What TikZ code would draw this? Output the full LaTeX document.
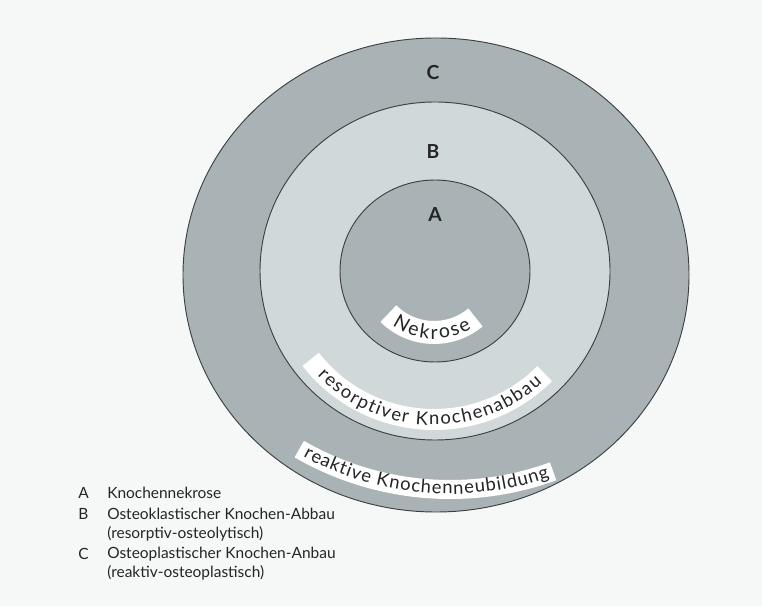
\documentclass[tikz,border=0pt]{standalone}
\usepackage{fontspec}
\setmainfont{Lato}
\usetikzlibrary{decorations.text}
\definecolor{paper}{RGB}{246,247,247}
\definecolor{ringdark}{RGB}{169,179,182}
\definecolor{ringlight}{RGB}{209,216,217}
\definecolor{ink}{RGB}{35,37,38}
\definecolor{rim}{RGB}{60,64,66}
\newcommand{\bandfont}{\fontsize{14.6}{18}\selectfont}
\newcommand{\wideband}{\fontsize{13.8}{18}\selectfont}

\begin{document}
\begin{tikzpicture}[x=0.75pt, y=0.75pt,
    ring/.style={draw=rim, line width=0.7pt},
    zone/.style={text=ink, font=\fontsize{14.5}{16}\selectfont\bfseries},
    band/.style={draw=white, line cap=butt},
    legend/.style={text=ink, anchor=west, inner sep=0pt, font=\fontsize{11.6}{14}\selectfont}]

    \useasboundingbox[fill=paper] (0,0) rectangle (762,606);

    \coordinate (outerc) at (436,331);
    \coordinate (innerc) at (435,335);
    \draw[ring, fill=ringdark] (outerc) ellipse [x radius=253, y radius=237];
    \draw[ring, fill=ringlight] (innerc) ellipse [x radius=175, y radius=169];
    \draw[ring, fill=ringdark] (innerc) ellipse [x radius=95, y radius=91];

    \node[zone] (lblC) at (433,533) {C};
    \node[zone] (lblB) at (433,454) {B};
    \node[zone] (lblA) at (435,391) {A};

    \coordinate (arcA) at (434,338);
    \coordinate (arcB) at (434,343);
    \coordinate (arcC) at (450,418);

    \draw[band, line width=17.25pt] (arcA) ++(225:64.5) arc[start angle=225, end angle=310, radius=64.5];
    \draw[band, line width=15.75pt] (arcB) ++(218:156.5) arc[start angle=218, end angle=315, radius=156.5];
    \draw[band, line width=14.25pt] (arcC) ++(240:301.5) arc[start angle=240, end angle=290, radius=301.5];

    \path[decorate, decoration={text along path, text color=ink, text align={fit to path},
        text={|\bandfont|Nekrose}}]
        (arcA) ++(234:71) arc[start angle=234, end angle=302, radius=71];
    \path[decorate, decoration={text along path, text color=ink, text align={fit to path},
        text={|\wideband|resorptiver Knochenabbau}}]
        (arcB) ++(224:162) arc[start angle=224, end angle=312, radius=162];
    \path[decorate, decoration={text along path, text color=ink, text align={fit to path},
        text={|\wideband|reaktive Knochenneubildung}}]
        (arcC) ++(241.3:306) arc[start angle=241.3, end angle=289, radius=306];

    \node[legend] (keyA) at (78,113) {A};
    \node[legend] (txtA) at (107,113) {Knochennekrose};
    \node[legend] (keyB) at (78,92) {B};
    \node[legend] (txtB) at (107,92) {Osteoklastischer Knochen-Abbau};
    \node[legend] (subB) at (107,72) {(resorptiv-osteolytisch)};
    \node[legend] (keyC) at (78,52) {C};
    \node[legend] (txtC) at (107,52) {Osteoplastischer Knochen-Anbau};
    \node[legend] (subC) at (107,33) {(reaktiv-osteoplastisch)};
\end{tikzpicture}
\end{document}
